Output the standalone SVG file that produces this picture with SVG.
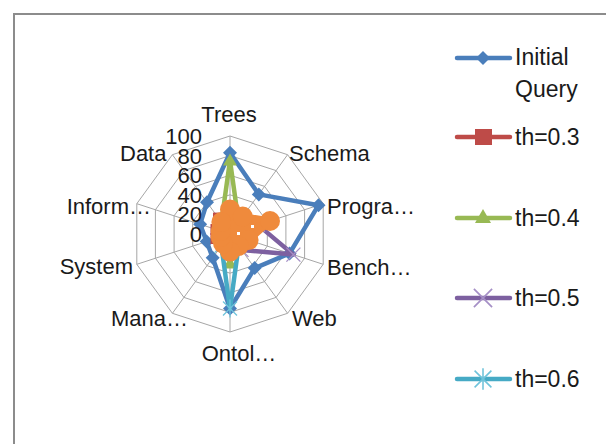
<svg xmlns="http://www.w3.org/2000/svg" xmlns:xlink="http://www.w3.org/1999/xlink" width="606" height="444" viewBox="0 0 606 444">
<style>
text{font-family:"Liberation Sans",Arial,sans-serif;font-size:22px;fill:#1a1a1a}
.leg text{font-size:23px}
.grid{fill:none;stroke:#a6a6a6;stroke-width:1}
.s{fill:none;stroke-width:4.5;stroke-linejoin:round;stroke-linecap:round}
.b{stroke:#4a7ebb}.r{stroke:#be4b48}.g{stroke:#98b954}.p{stroke:#7d60a0}.t{stroke:#46aac5}.o{stroke:#ef8a3c;stroke-width:7;fill:#ef8a3c}
.mb{fill:#4a7ebb}.mr{fill:#be4b48}.mg{fill:#98b954}.mo{fill:#ef8a3c}
.mp{fill:none;stroke:#a58fc6;stroke-width:1.3}.mt{fill:none;stroke:#6fc3da;stroke-width:1.3}
</style>
<defs>
<path id="dia" d="M0,-7L7,0L0,7L-7,0Z"/>
<rect id="sq" x="-5.5" y="-5.5" width="11" height="11"/>
<path id="tri" d="M0,-7L7,5L-7,5Z"/>
<path id="xm" d="M-7,-7L7,7M-7,7L7,-7"/>
<path id="ast" d="M-7,-7L7,7M-7,7L7,-7M0,-9V9"/>
<circle id="cir" r="10"/>
</defs>
<rect x="0" y="0" width="606" height="444" fill="#fff"/>
<path d="M14,444V14H606" fill="none" stroke="#8c8c8c" stroke-width="2"/>

<g id="grid">
<polygon class="grid" points="230,136 287.6,154.7 323.2,203.7 323.2,264.3 287.6,313.3 230,332 172.4,313.3 136.8,264.3 136.8,203.7 172.4,154.7"/>
<polygon class="grid" points="230,155.6 276.1,170.6 304.6,209.8 304.6,258.2 276.1,297.4 230,312.4 183.9,297.4 155.4,258.2 155.4,209.8 183.9,170.6"/>
<polygon class="grid" points="230,175.2 264.6,186.4 285.9,215.8 285.9,252.2 264.6,281.6 230,292.8 195.4,281.6 174.1,252.2 174.1,215.8 195.4,186.4"/>
<polygon class="grid" points="230,194.8 253,202.3 267.3,221.9 267.3,246.1 253,265.7 230,273.2 207,265.7 192.7,246.1 192.7,221.9 207,202.3"/>
<polygon class="grid" points="230,214.4 241.5,218.1 248.6,227.9 248.6,240.1 241.5,249.9 230,253.6 218.5,249.9 211.4,240.1 211.4,227.9 218.5,218.1"/>
<path class="grid" d="M230,234L230,136M230,234L287.6,154.7M230,234L323.2,203.7M230,234L323.2,264.3M230,234L287.6,313.3M230,234L230,332M230,234L172.4,313.3M230,234L136.8,264.3M230,234L136.8,203.7M230,234L172.4,154.7"/>
</g>

<g id="axis-labels">
<text x="229" y="122" text-anchor="middle">Trees</text>
<text x="289" y="161">Schema</text>
<text x="327" y="214">Progra…</text>
<text x="327" y="275">Bench…</text>
<text x="292" y="326">Web</text>
<text x="239" y="361" text-anchor="middle">Ontol…</text>
<text x="188" y="326" text-anchor="end">Mana…</text>
<text x="133" y="274" text-anchor="end">System</text>
<text x="151" y="214" text-anchor="end">Inform…</text>
<text x="120" y="161">Data</text>
</g>

<g id="series-initial-query">
<polygon class="s b" points="230,152.7 258.8,194.4 318.5,205.2 289.6,253.4 254.7,268.1 230,308.5 212.7,257.8 206.7,241.6 200.1,224.3 207,202.3"/>
<g class="mb">
<use href="#dia" x="230" y="152.7"/><use href="#dia" x="258.8" y="194.4"/><use href="#dia" x="318.5" y="205.2"/><use href="#dia" x="289.6" y="253.4"/><use href="#dia" x="254.7" y="268.1"/><use href="#dia" x="230" y="308.5"/><use href="#dia" x="212.7" y="257.8"/><use href="#dia" x="206.7" y="241.6"/><use href="#dia" x="200.1" y="224.3"/><use href="#dia" x="207" y="202.3"/>
</g>
</g>

<g id="series-th03">
<polygon class="s r" points="230,214.4 241.5,218.1 258,224.9 248.6,240.1 238.6,245.9 230,253.6 221.4,245.9 216,238.5 216,229.5 218.5,218.1"/>
<g class="mr">
<use href="#sq" x="230" y="214.4"/><use href="#sq" x="241.5" y="218.1"/><use href="#sq" x="258" y="224.9"/><use href="#sq" x="248.6" y="240.1"/><use href="#sq" x="238.6" y="245.9"/><use href="#sq" x="230" y="253.6"/><use href="#sq" x="221.4" y="245.9"/><use href="#sq" x="216" y="238.5"/><use href="#sq" x="216" y="229.5"/><use href="#sq" x="218.5" y="218.1"/>
</g>
</g>

<g id="series-th04">
<polygon class="s g" points="230,160.5 238.6,222.1 253.3,226.4 244,238.5 236.9,243.5 230,263.4 223.1,243.5 218.8,237.6 218.8,230.4 221.4,222.1"/>
<g class="mg">
<use href="#tri" x="230" y="160.5"/><use href="#tri" x="238.6" y="222.1"/><use href="#tri" x="253.3" y="226.4"/><use href="#tri" x="244" y="238.5"/><use href="#tri" x="236.9" y="243.5"/><use href="#tri" x="230" y="263.4"/><use href="#tri" x="223.1" y="243.5"/><use href="#tri" x="218.8" y="237.6"/><use href="#tri" x="218.8" y="230.4"/><use href="#tri" x="221.4" y="222.1"/>
</g>
</g>

<g id="series-th05">
<polygon class="s p" points="230,219.3 238.6,222.1 258,224.9 293.4,254.6 241.5,249.9 230,248.7 224.2,241.9 220.7,237 220.7,231 223.1,224.5"/>
<g class="mp">
<use href="#xm" x="293.4" y="254.6"/><use href="#xm" x="241.5" y="249.9"/><use href="#xm" x="258" y="224.9"/>
</g>
</g>

<g id="series-th06">
<polygon class="s t" points="230,222.2 236.9,224.5 248.6,227.9 244,238.5 238.6,245.9 230,308.5 221.4,245.9 220.7,237 220.7,231 223.1,224.5"/>
<g class="mt">
<use href="#ast" x="230" y="308.5"/><use href="#ast" x="238.6" y="245.9"/><use href="#ast" x="221.4" y="245.9"/>
</g>
</g>

<g id="series-extra">
<polygon class="s o" points="230,209.5 242.7,216.5 270,221 248.6,240.1 238.6,245.9 230,251.6 223.1,243.5 220.7,237 220.7,231 221.4,222.1"/>
<g class="mo">
<use href="#cir" x="230" y="209.5"/><use href="#cir" x="242.7" y="216.5"/><use href="#cir" x="270" y="221"/><use href="#cir" x="248.6" y="240.1"/><use href="#cir" x="238.6" y="245.9"/><use href="#cir" x="230" y="251.6"/><use href="#cir" x="223.1" y="243.5"/><use href="#cir" x="220.7" y="237"/><use href="#cir" x="220.7" y="231"/><use href="#cir" x="221.4" y="222.1"/>
</g>
<path d="M237,232h3v3h-3zM251,225h3v3h-3z" fill="#fff"/>
</g>

<g id="value-labels">
<text x="202" y="144" text-anchor="end">100</text>
<text x="202" y="164" text-anchor="end">80</text>
<text x="202" y="183" text-anchor="end">60</text>
<text x="202" y="203" text-anchor="end">40</text>
<text x="202" y="222" text-anchor="end">20</text>
<text x="202" y="242" text-anchor="end">0</text>
</g>

<g id="legend" class="leg">
<g id="leg-initial">
<path class="s b" d="M457,58H510"/><use class="mb" href="#dia" x="483" y="58"/>
<text x="515" y="65">Initial</text><text x="515" y="97">Query</text>
</g>
<g id="leg-th03">
<path class="s r" d="M457,137H510"/><rect class="mr" x="475" y="129" width="17" height="16"/>
<text x="515" y="145">th=0.3</text>
</g>
<g id="leg-th04">
<path class="s g" d="M457,218H510"/><path class="mg" d="M483,209L491,223H475Z"/>
<text x="515" y="226">th=0.4</text>
</g>
<g id="leg-th05">
<path class="s p" d="M457,298H510"/><use class="mp" href="#xm" x="483" y="298" transform="translate(483,298) scale(1.3) translate(-483,-298)"/>
<text x="515" y="306">th=0.5</text>
</g>
<g id="leg-th06">
<path class="s t" d="M457,379H510"/><use class="mt" href="#ast" x="483" y="379" transform="translate(483,379) scale(1.2) translate(-483,-379)"/>
<text x="515" y="387">th=0.6</text>
</g>
</g>
</svg>
